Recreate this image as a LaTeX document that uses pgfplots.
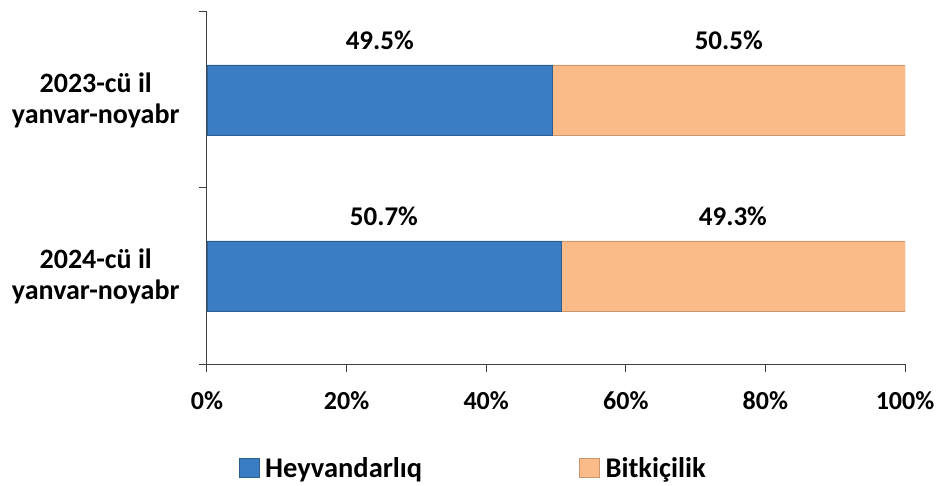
\documentclass[border=0pt]{standalone}
\usepackage{fontspec}
\setmainfont{Carlito}
\usepackage{pgfplots}
\pgfplotsset{compat=1.18}
\definecolor{hblue}{HTML}{3A7DC3}
\definecolor{borange}{HTML}{FBBB88}
\definecolor{axisgray}{HTML}{404040}
\begin{document}
\begin{tikzpicture}
\path[use as bounding box] (0,0) rectangle (940pt,485pt);
\begin{axis}[
  at={(207pt,121pt)}, anchor=south west,
  scale only axis, width=698pt, height=352pt,
  xbar stacked, bar width=0.4,
  xmin=0, xmax=100, ymin=-0.5, ymax=1.5,
  axis x line*=bottom, axis y line*=left,
  axis line style={axisgray, line width=1pt, -},
  tick align=outside, major tick length=8pt,
  tick style={axisgray, line width=1pt},
  /pgf/number format/assume math mode=true,
  xtick={0,20,40,60,80,100},
  xticklabel={\pgfmathprintnumber{\tick}\%},
  xticklabel style={font=\fontsize{26}{30}\selectfont\bfseries, yshift=-16pt},
  ytick={-0.5,0.5,1.5}, yticklabels={},
  extra y ticks={0,1},
  extra y tick labels={{2024-cü il\\yanvar-noyabr},{2023-cü il\\yanvar-noyabr}},
  extra y tick style={major tick length=0pt,
    yticklabel style={align=center, font=\fontsize{28}{31}\selectfont\bfseries, xshift=-24pt}},
  point meta=rawx,
  nodes near coords={\pgfmathprintnumber[fixed,fixed zerofill,precision=1]{\pgfplotspointmeta}\%},
  every node near coord/.append style={font=\fontsize{27}{30}\selectfont\bfseries, anchor=center, yshift=59.5pt, black},
  legend style={at={(0.041,-0.2955)}, anchor=west, draw=none, fill=none,
    legend columns=2, font=\fontsize{28.5}{31}\selectfont\bfseries,
    /tikz/every even column/.append style={column sep=155pt}},
  legend image code/.code={\draw[#1] (0pt,-9.5pt) rectangle (20pt,9.5pt); \path (24pt,0pt);},
]
\addplot[fill=hblue, draw=hblue!75!black] coordinates {(50.7,0) (49.5,1)};
\addplot[fill=borange, draw=borange!80!black] coordinates {(49.3,0) (50.5,1)};
\legend{Heyvandarlıq, Bitkiçilik}
\end{axis}
\end{tikzpicture}
\end{document}
